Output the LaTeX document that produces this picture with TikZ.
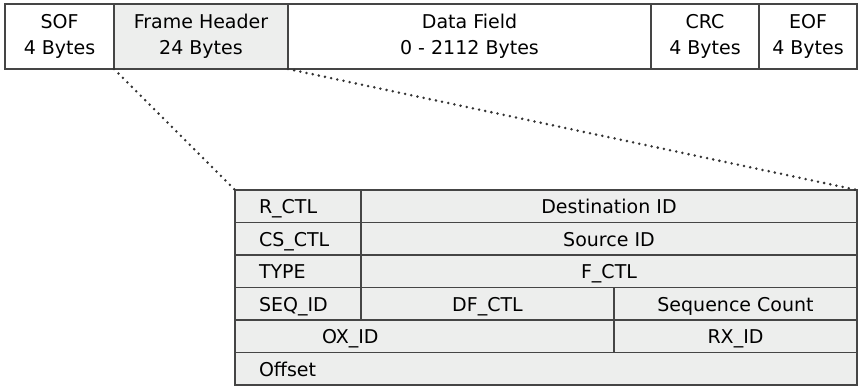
\documentclass[tikz,border=0pt]{standalone}
\usepackage{fontspec}
\setmainfont{DejaVu Sans}
\definecolor{cellgray}{HTML}{EDEEED}
\definecolor{rulegray}{HTML}{454545}
\definecolor{dotgray}{HTML}{333333}

\begin{document}
\begin{tikzpicture}[x=1pt,y=-1pt,
    cell/.style={draw=rulegray, line width=1.4pt, inner sep=0pt, outer sep=0pt,
        anchor=north west, align=center, font=\fontsize{19}{26}\selectfont},
    barcell/.style={cell, minimum height=65pt, minimum width=#1},
    rowcell/.style={cell, fill=cellgray, minimum height=32.5pt, minimum width=#1,
        text height=14.5pt, text depth=0pt},
    leftcell/.style 2 args={rowcell=#1, align=left, inner xsep=#2, text width=#1-2*#2},
    dotline/.style={draw=dotgray, line width=2.8pt, line cap=round,
        dash pattern=on 0pt off 6.3pt}]

\useasboundingbox (0,0) rectangle (858,386);

    % Frame
\node (sof) [barcell=109pt] at (5,4) {SOF\\4 Bytes};
\node (fh) [barcell=174pt, fill=cellgray] at (114,4) {Frame Header\\24 Bytes};
\node (df) [barcell=363pt] at (288,4) {Data Field\\0 - 2112 Bytes};
\node (crc) [barcell=108pt] at (651,4) {CRC\\4 Bytes};
\node (eof) [barcell=98pt] at (759,4) {EOF\\4 Bytes};

    % Frame Header - 6 Worte
\node (rctl) [leftcell={126pt}{24pt}] at (235,190) {R\_CTL};
\node (dest) [rowcell=496pt] at (361,190) {Destination ID};
\node (csctl) [leftcell={126pt}{24pt}] at (235,222.5) {CS\_CTL};
\node (src) [rowcell=496pt] at (361,222.5) {Source ID};
\node (type) [leftcell={126pt}{24pt}] at (235,255) {TYPE};
\node (fctl) [rowcell=496pt] at (361,255) {F\_CTL};
\node (seqid) [leftcell={126pt}{24pt}] at (235,287.5) {SEQ\_ID};
\node (dfctl) [rowcell=253pt] at (361,287.5) {DF\_CTL};
\node (seqcnt) [rowcell=243pt] at (614,287.5) {Sequence Count};
\node (oxid) [leftcell={379pt}{87pt}] at (235,320) {OX\_ID};
\node (rxid) [rowcell=243pt] at (614,320) {RX\_ID};
\node (offset) [leftcell={622pt}{24pt}] at (235,352.5) {Offset};

    % Zoom
\draw[dotline] (fh.south west) -- (rctl.north west);
\draw[dotline] (fh.south east) -- (dest.north east);

\end{tikzpicture}
\end{document}
